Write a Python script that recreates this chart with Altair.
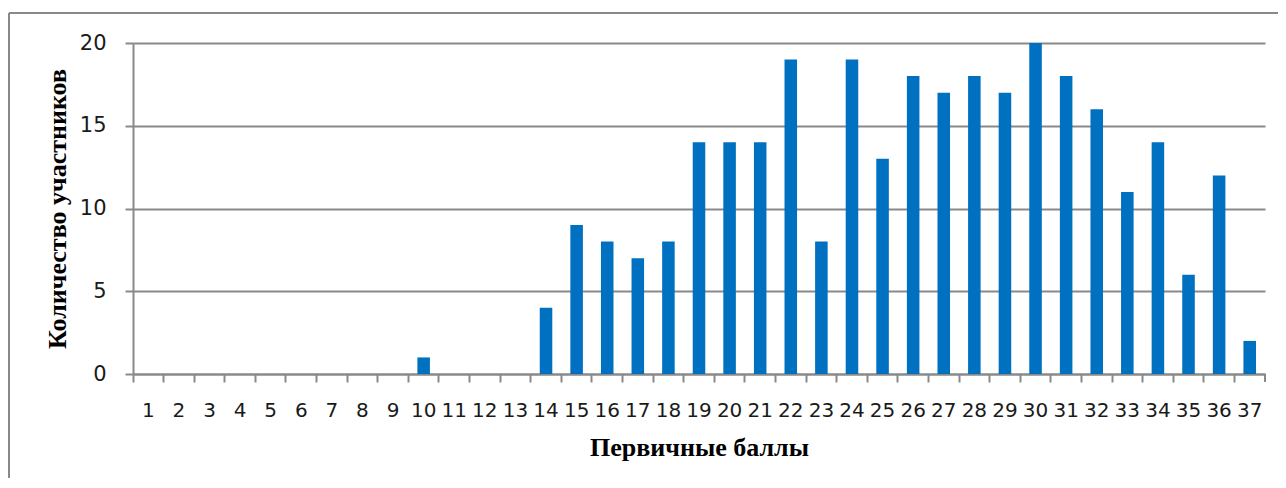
import altair as alt
import pandas as pd

scores = [str(i) for i in range(1, 38)]
counts = [0, 0, 0, 0, 0, 0, 0, 0, 0, 1, 0, 0, 0, 4, 9, 8, 7, 8, 14, 14,
          14, 19, 8, 19, 13, 18, 17, 18, 17, 20, 18, 16, 11, 14, 6, 12, 2]
y_ticks = [0, 5, 10, 15, 20]
x_title = "Первичные баллы"
y_title = "Количество участников"

df = pd.DataFrame({"score": scores, "count": counts})

W, H = 1132, 331
GRAY = "#898989"

bars = alt.Chart(df).mark_bar(
    color="#0070C0", width=alt.RelativeBandSize(0.41)
).encode(
    x=alt.X("score:O", sort=scores, title=x_title,
            scale=alt.Scale(paddingInner=0, paddingOuter=0),
            axis=alt.Axis(labelAngle=0, bandPosition=0, labelOffset=0,
                          tickSize=8, tickColor=GRAY, tickWidth=2,
                          domainColor=GRAY, domainWidth=2,
                          labelFont="DejaVu Sans", labelFontSize=20,
                          labelColor="#1a1a1a", labelPadding=18,
                          titleFont="Liberation Serif", titleFontSize=26,
                          titleFontWeight="bold", titleColor="#000000",
                          titlePadding=14, grid=False)),
    y=alt.Y("count:Q", title=y_title,
            scale=alt.Scale(domain=[0, 20], nice=False),
            axis=alt.Axis(values=y_ticks, grid=True, gridColor=GRAY, gridWidth=2,
                          tickSize=8, tickColor=GRAY, tickWidth=2,
                          domainColor=GRAY, domainWidth=2,
                          labelFont="DejaVu Sans", labelFontSize=21,
                          labelColor="#1a1a1a", labelPadding=19,
                          titleFont="Liberation Serif", titleFontSize=26,
                          titleFontWeight="bold", titleColor="#000000",
                          titlePadding=9)),
)

end_tick = alt.Chart(df).mark_rule(color=GRAY, strokeWidth=2).encode(
    x=alt.value(W), y=alt.value(H), y2=alt.value(H + 8)
)
frame_top = alt.Chart(df).mark_rule(color=GRAY, strokeWidth=2).encode(
    x=alt.value(-124), x2=alt.value(W + 20), y=alt.value(-30)
)
frame_left = alt.Chart(df).mark_rule(color=GRAY, strokeWidth=2).encode(
    x=alt.value(-124), y=alt.value(-30), y2=alt.value(H + 130)
)

chart = alt.layer(bars, end_tick, frame_top, frame_left).properties(
    width=W, height=H,
    autosize=alt.AutoSizeParams(type="none"),
    padding={"left": 125, "top": 35, "right": 13, "bottom": 104},
).configure_view(stroke=None)

chart.save("out.html", embed_options={"renderer": "svg", "actions": False})
